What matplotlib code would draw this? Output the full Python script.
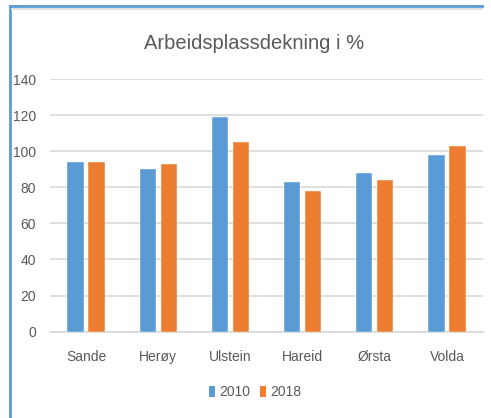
import matplotlib.pyplot as plt
from matplotlib.lines import Line2D
from matplotlib.patches import Patch
import numpy as np

plt.rcParams['font.family'] = ['Liberation Sans', 'DejaVu Sans']

kommuner = ["Sande", "Herøy", "Ulstein", "Hareid", "Ørsta", "Volda"]
år_2010 = [94, 90, 119, 83, 88, 98]
år_2018 = [94, 93, 105, 78, 84, 103]
yticks = [0, 20, 40, 60, 80, 100, 120, 140]

blue = "#5B9BD5"
orange = "#ED7D31"
grey_text = "#595959"

fig = plt.figure(figsize=(4.91, 4.18), dpi=100)
ax = fig.add_axes([0.1018, 0.2065, 0.882, 0.6045])

x = np.arange(len(kommuner))
w = 0.225
ax.bar(x - 0.145, år_2010, width=w, color=blue, edgecolor="white", linewidth=0.3, zorder=3)
ax.bar(x + 0.145, år_2018, width=w, color=orange, edgecolor="white", linewidth=0.3, zorder=3)

ax.set_xlim(-0.5, len(kommuner) - 0.5)
ax.set_ylim(0, 140)
ax.set_yticks(yticks)
ax.set_xticks(x)
ax.set_xticklabels(kommuner)
ax.yaxis.grid(True, color="#D9D9D9", linewidth=1.2, zorder=0)
ax.set_axisbelow(True)
for s in ["top", "right", "left"]:
    ax.spines[s].set_visible(False)
ax.spines["bottom"].set_color("#D9D9D9")
ax.spines["bottom"].set_linewidth(1.2)
ax.tick_params(axis="both", length=0, labelsize=10, colors=grey_text)
ax.tick_params(axis="x", pad=13)
ax.tick_params(axis="y", pad=10)

fig.text(0.517, 0.897, "Arbeidsplassdekning i %", ha="center", va="center",
         fontsize=14.5, color=grey_text)

handles = [Patch(facecolor=blue), Patch(facecolor=orange)]
fig.legend(handles, ["2010", "2018"], loc="center", bbox_to_anchor=(0.52, 0.062),
           ncol=2, frameon=False, fontsize=10, labelcolor=grey_text,
           handlelength=0.45, handleheight=0.8, handletextpad=0.3, columnspacing=0.7)

# ramme
fig.add_artist(Line2D([0.0204, 0.0204], [0, 0.986], color=blue, linewidth=2))
fig.add_artist(Line2D([0.0204, 0.982], [0.986, 0.986], color=blue, linewidth=2))
fig.add_artist(Line2D([0.025, 0.982], [0.978, 0.978], color="#E0E0E0", linewidth=1.5))

fig.savefig("out.png", dpi=100)
